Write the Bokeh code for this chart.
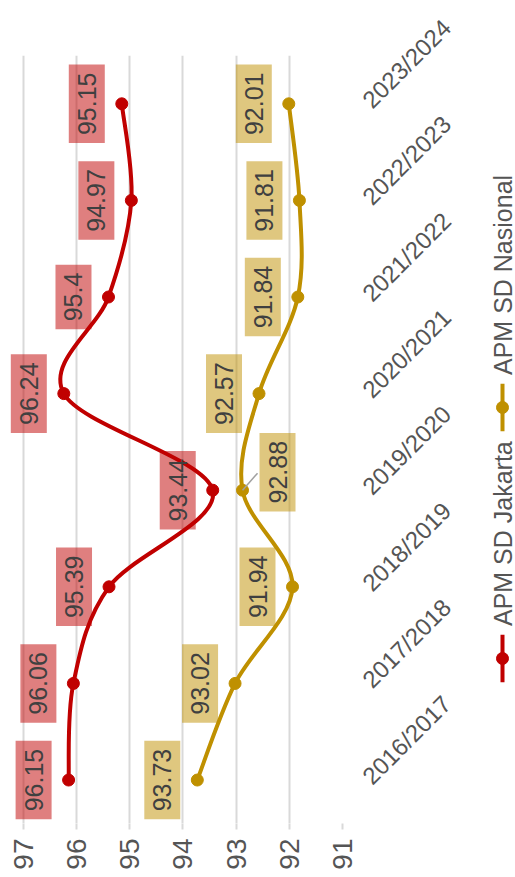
import numpy as np
from math import pi
from bokeh.plotting import figure
from bokeh.models import Range1d, FixedTicker, ColumnDataSource
from bokeh.layouts import row
from bokeh.embed import file_html
from bokeh.resources import INLINE
from bokeh.core.properties import value

categories = ["2016/2017", "2017/2018", "2018/2019", "2019/2020",
              "2020/2021", "2021/2022", "2022/2023", "2023/2024"]
jakarta = [96.15, 96.06, 95.39, 93.44, 96.24, 95.40, 94.97, 95.15]
nasional = [93.73, 93.02, 91.94, 92.88, 92.57, 91.84, 91.81, 92.01]
value_ticks = [97, 96, 95, 94, 93, 92, 91]
series_names = ["APM SD Jakarta", "APM SD Nasional"]
colors = ["#C00000", "#BF9000"]

FONT = "Liberation Sans"
TXT = "#555555"
GRID = "#d9d9d9"

X_START, X_END = 97.28, 91.0
FRAME_W, FRAME_H = 334, 768
PX_PER_VAL = FRAME_W / (X_START - X_END)
Y_START, Y_END = -0.45, 7.5
PX_PER_IDX = FRAME_H / (Y_END - Y_START)
FIG_H = 875


def bezier_segments(vals):
    """Catmull-Rom smoothing expressed as cubic Bezier segments."""
    v = np.asarray(vals, dtype=float)
    i = np.arange(len(v), dtype=float)
    n = len(v)
    prev = lambda a, k: a[max(k - 1, 0)]
    nxt = lambda a, k: a[min(k + 1, n - 1)]
    out = dict(x0=[], y0=[], x1=[], y1=[], cx0=[], cy0=[], cx1=[], cy1=[])
    for k in range(n - 1):
        out["x0"].append(v[k]); out["y0"].append(i[k])
        out["x1"].append(v[k + 1]); out["y1"].append(i[k + 1])
        out["cx0"].append(v[k] + (v[k + 1] - prev(v, k)) / 6)
        out["cy0"].append(i[k] + (i[k + 1] - prev(i, k)) / 6)
        out["cx1"].append(v[k + 1] - (nxt(v, k + 1) - v[k]) / 6)
        out["cy1"].append(i[k + 1] - (nxt(i, k + 1) - i[k]) / 6)
    return out


p = figure(width=485, height=FIG_H,
           x_range=Range1d(X_START, X_END), y_range=Range1d(Y_START, Y_END),
           y_axis_location="right", output_backend="svg", toolbar_location=None,
           min_border_left=8, min_border_top=55, min_border_bottom=52,
           min_border_right=485 - 8 - FRAME_W)
p.outline_line_color = None
p.background_fill_color = "white"

p.xaxis.ticker = FixedTicker(ticks=value_ticks)
p.xaxis.major_label_orientation = pi / 2
p.xaxis.axis_line_color = None
p.xaxis.major_tick_line_color = GRID
p.xaxis.major_tick_line_width = 2
p.xaxis.major_tick_out = 6
p.xaxis.major_tick_in = 0
p.xaxis.minor_tick_line_color = None
p.xaxis.major_label_text_font = FONT
p.xaxis.major_label_text_font_size = "28px"
p.xaxis.major_label_text_color = TXT
p.xaxis.major_label_standoff = 9

idx = list(range(len(categories)))
p.yaxis.ticker = FixedTicker(ticks=idx)
p.yaxis.major_label_overrides = {i: c for i, c in enumerate(categories)}
p.yaxis.major_label_orientation = pi / 4
p.yaxis.axis_line_color = None
p.yaxis.major_tick_line_color = None
p.yaxis.minor_tick_line_color = None
p.yaxis.major_label_text_font = FONT
p.yaxis.major_label_text_font_size = "24px"
p.yaxis.major_label_text_color = TXT
p.yaxis.major_label_standoff = 18

p.xgrid.ticker = FixedTicker(ticks=value_ticks)
p.xgrid.grid_line_color = GRID
p.xgrid.grid_line_width = 2
p.ygrid.grid_line_color = None

label_dx = [[-35] * 8, [-35, -35, -35, 35, -35, -35, -35, -35]]
label_dy = [[0] * 8, [0, 0, 0, -18, 0, 0, 0, 0]]

for vals, col in zip([jakarta, nasional], colors):
    seg = bezier_segments(vals)
    p.bezier(source=ColumnDataSource(seg), x0="x0", y0="y0", x1="x1", y1="y1",
             cx0="cx0", cy0="cy0", cx1="cx1", cy1="cy1",
             line_color=col, line_width=4, line_cap="round")
    p.scatter(vals, idx, size=12, color=col)

# leader line for the moved label
k = 3
p.segment(x0=[nasional[k]], y0=[idx[k]],
          x1=[nasional[k] - 15 / PX_PER_VAL], y1=[idx[k] + 17 / PX_PER_IDX],
          line_color="#a0a0a0", line_width=1.5)

for vals, col, dx, dy in zip([jakarta, nasional], colors, label_dx, label_dy):
    src = ColumnDataSource(dict(x=vals, y=idx, t=[f"{v:g}" for v in vals], dx=dx, dy=dy))
    p.text(x="x", y="y", text="t", source=src, x_offset="dx", y_offset="dy",
           angle=pi / 2, text_align="center", text_baseline="middle",
           text_font=value(FONT), text_font_size="25px", text_color="#404040",
           background_fill_color=col, background_fill_alpha=0.5,
           padding=(8, 9))

# legend drawn rotated in a narrow side panel
LG_W = 30
lg = figure(width=LG_W, height=FIG_H, x_range=Range1d(0, LG_W), y_range=Range1d(FIG_H, 0),
            x_axis_type=None, y_axis_type=None, output_backend="svg",
            toolbar_location=None, min_border=0)
lg.outline_line_color = None
lg.grid.grid_line_color = None
leg_y = [687, 401]  # marker centres (px from top)
xc = 17
for name, col, ym in zip(series_names, colors, leg_y):
    lg.segment(x0=[xc], y0=[ym + 27], x1=[xc], y1=[ym - 27], line_color=col, line_width=4)
    lg.scatter([xc], [ym], size=12, color=col)
    lg.text(x=[xc], y=[ym - 37], text=[name], angle=pi / 2, text_align="left",
            text_baseline="middle", text_font=value(FONT), text_font_size="25px",
            text_color=TXT)

layout = row(p, lg)
open("out.html", "w").write(file_html(layout, INLINE))
